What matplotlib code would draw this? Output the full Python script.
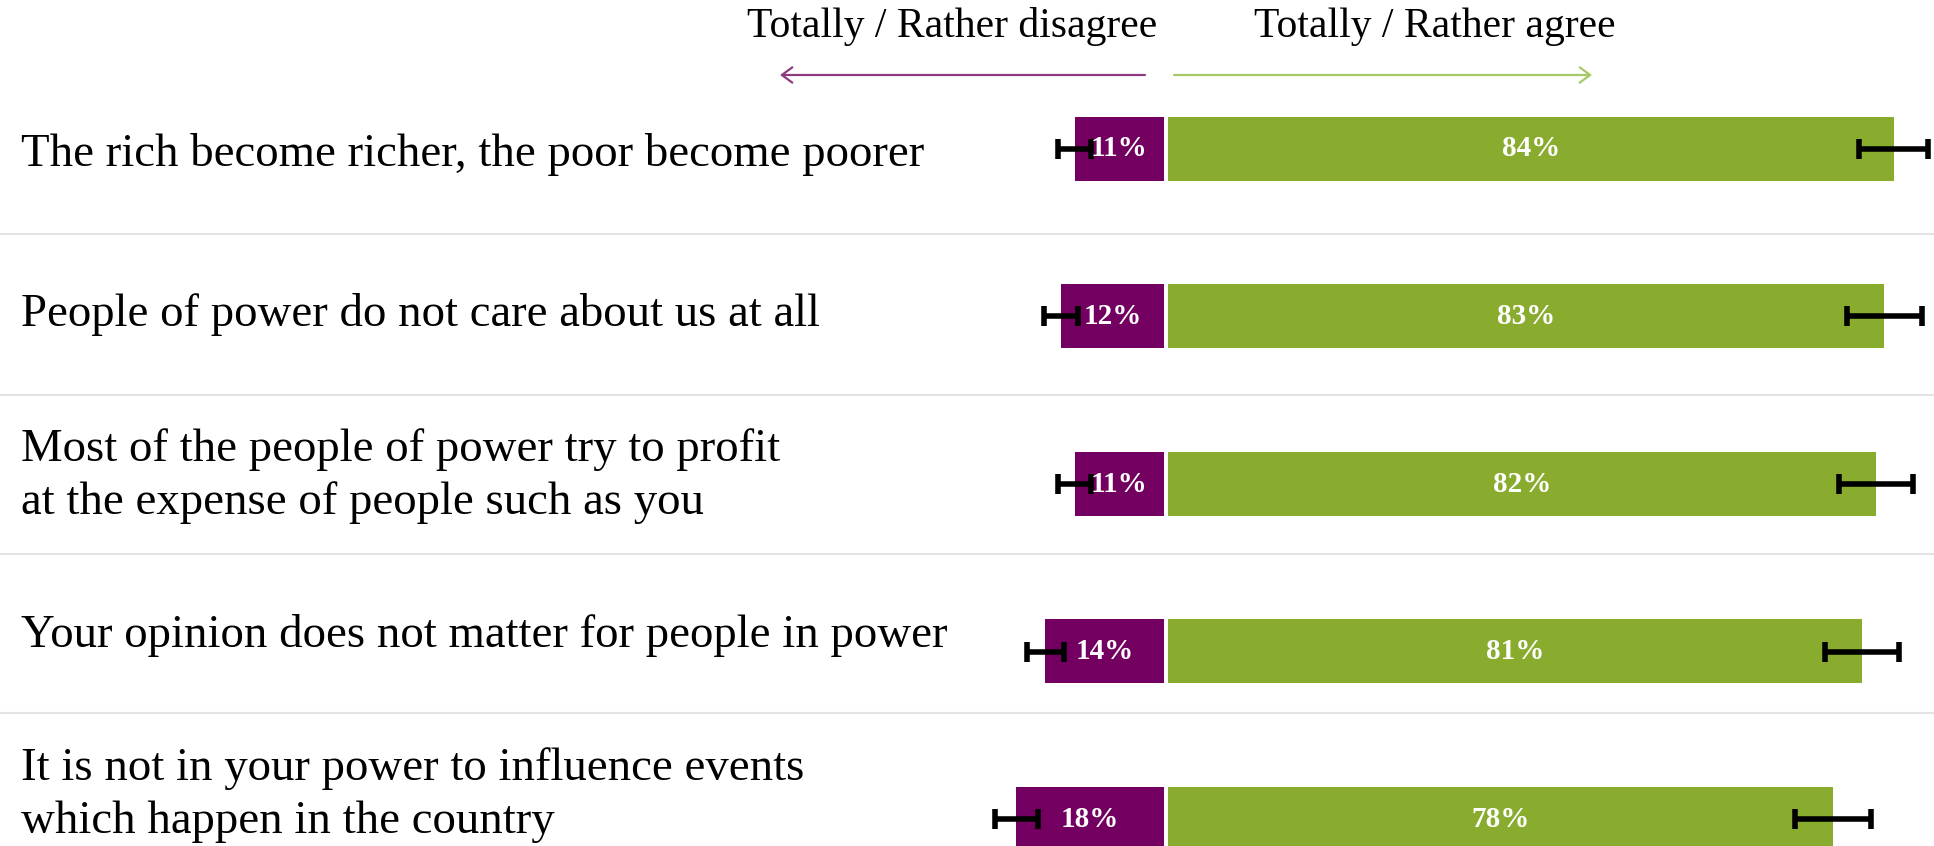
import matplotlib
matplotlib.use("Agg")
import matplotlib.pyplot as plt
from matplotlib.lines import Line2D

# ---------------- data ----------------
statements = [
    "The rich become richer, the poor become poorer",
    "People of power do not care about us at all",
    "Most of the people of power try to profit\nat the expense of people such as you",
    "Your opinion does not matter for people in power",
    "It is not in your power to influence events\nwhich happen in the country",
]
disagree = [10.4, 12.0, 10.4, 13.8, 17.2]
agree = [84.4, 83.3, 82.3, 80.7, 77.3]
disagree_labels = ["11%", "12%", "11%", "14%", "18%"]
agree_labels = ["84%", "83%", "82%", "81%", "78%"]
disagree_err = [1.9, 2.0, 1.9, 2.15, 2.5]
agree_err = [4.0, 4.4, 4.3, 4.3, 4.4]
header_left = "Totally / Rather disagree"
header_right = "Totally / Rather agree"

# ---------------- style ----------------
PURPLE = "#730060"
GREEN = "#89AC2F"
PURPLE_ARROW = "#8E3A80"
GREEN_ARROW = "#A8C865"
SEP = "#E3E3E3"
FONT = "Liberation Serif"

W, H = 1934, 846
fig = plt.figure(figsize=(W / 100, H / 100), dpi=100)
ax = fig.add_axes([0, 0, 1, 1])
ax.axis("off")

s = 8.6          # px per percent
x0 = 1166        # px of zero line
row0, step = 149, 167.5
ax.set_xlim(-x0 / s, (W - x0) / s)
ax.set_ylim((H - row0) / step, -row0 / step)
gap = 2 / s
bh = 64 / step

ys = list(range(len(statements)))
ax.barh(ys, [-v for v in disagree], left=-gap, height=bh, color=PURPLE, zorder=2)
ax.barh(ys, agree, left=gap, height=bh, color=GREEN, zorder=2)

eb = dict(fmt="none", ecolor="black", elinewidth=4, capsize=7, capthick=4, zorder=3)
ax.errorbar([-gap - v for v in disagree], ys, xerr=disagree_err, **eb)
ax.errorbar([gap + v for v in agree], ys, xerr=agree_err, **eb)

for y, v, lab in zip(ys, disagree, disagree_labels):
    ax.text(-gap - v / 2, y, lab, ha="center", va="center", color="white",
            fontsize=21, fontweight="bold", family=FONT, zorder=4)
for y, v, lab in zip(ys, agree, agree_labels):
    ax.text(gap + v / 2, y, lab, ha="center", va="center", color="white",
            fontsize=21, fontweight="bold", family=FONT, zorder=4)

# statement labels
label_y = [155, 314, 476, 635, 795]
for ly, txt in zip(label_y, statements):
    fig.text(21 / W, 1 - ly / H, txt, ha="left", va="center", fontsize=33.7,
             family=FONT, color="black", linespacing=1.33)

# separators
for sy in [234, 395, 554, 713]:
    fig.add_artist(Line2D([0, 1], [1 - sy / H] * 2, transform=fig.transFigure,
                          color=SEP, lw=1.5))

# header
fig.text(1157 / W, 1 - 27 / H, header_left, ha="right", va="center",
         fontsize=30, family=FONT)
fig.text(1254 / W, 1 - 27 / H, header_right, ha="left", va="center",
         fontsize=30, family=FONT)
ay = 1 - 75 / H
ax.annotate("", xy=(780 / W, ay), xytext=(1145 / W, ay),
            xycoords="figure fraction", textcoords="figure fraction",
            arrowprops=dict(arrowstyle="->,head_length=0.75,head_width=0.55",
                            color=PURPLE_ARROW, lw=1.6, shrinkA=0, shrinkB=0))
ax.annotate("", xy=(1592 / W, ay), xytext=(1174 / W, ay),
            xycoords="figure fraction", textcoords="figure fraction",
            arrowprops=dict(arrowstyle="->,head_length=0.75,head_width=0.55",
                            color=GREEN_ARROW, lw=1.6, shrinkA=0, shrinkB=0))

fig.savefig("out.png", dpi=100)
